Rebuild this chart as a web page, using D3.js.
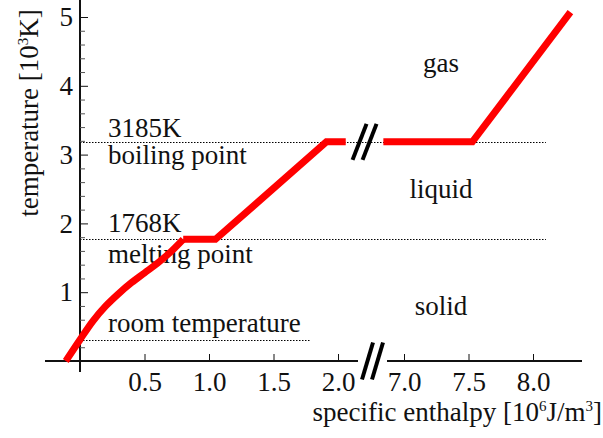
<!DOCTYPE html>
<html>
<head>
<meta charset="utf-8">
<script src="https://cdn.jsdelivr.net/npm/d3@7"></script>
<style>
  body { margin: 0; background: #fff; }
  svg text { font-family: "Liberation Serif", "Times New Roman", serif; fill: #111; }
</style>
</head>
<body>
<svg id="chart" width="603" height="438"></svg>
<script>
// Heating curve: specific enthalpy [10^6 J/m^3] vs temperature [10^3 K]
const solidHeating = [[-0.11, 0], [0, 0.31], [0.1, 0.58], [0.2, 0.8], [0.3, 0.98],
                      [0.4, 1.14], [0.5, 1.28], [0.6, 1.42], [0.7, 1.58], [0.8, 1.768]];
const meltToBoil = [[0.8, 1.768], [1.05, 1.768], [1.91, 3.185], [2.06, 3.185]];
const boilToGas = [[6.84, 3.185], [7.53, 3.185], [8.29, 5.07]];

// Reference temperatures [10^3 K]
const levelTemps = [3.185, 1.768, 0.3];
const levelValues = ["3185K", "1768K", ""];
const levelNames = ["boiling point", "melting point", "room temperature"];

// Phase names
const phaseNames = ["gas", "liquid", "solid"];

// Tick values
const yTicks = [1, 2, 3, 4, 5];
const xTicksLow = [0.5, 1.0, 1.5, 2.0];
const xTicksHigh = [7.0, 7.5, 8.0];

const FONT = "Liberation Serif, Times New Roman, serif";
const FS = 27;
const svg = d3.select("#chart");

// Broken x axis: two linear pieces with a gap between 2.x and 6.x
const xLow = d3.scaleLinear().domain([0, 2]).range([80, 338]);
const xHigh = d3.scaleLinear().domain([7, 8]).range([404, 533]);
const X = v => (v < 4.5 ? xLow(v) : xHigh(v));
const y = d3.scaleLinear().domain([0, 5]).range([361, 17]);

const y0 = y(0), x0 = xLow(0);
const lowEnd = xLow.invert(358), highStart = xHigh.invert(387);
const lowStart = xLow.invert(45), highEnd = xHigh.invert(582);

// Reference dotted lines
const dotted = svg.append("g")
  .attr("stroke", "#000").attr("stroke-width", 1).attr("stroke-dasharray", "1.5,1.5");
const levelEnds = [X(8.1), X(8.1), X(1.78)];
levelTemps.forEach((t, i) => {
  dotted.append("line")
    .attr("x1", x0).attr("x2", levelEnds[i])
    .attr("y1", Math.round(y(t)) + 0.5).attr("y2", Math.round(y(t)) + 0.5);
});

// Level annotations
const ann = svg.append("g").attr("font-size", FS).attr("font-family", FONT);
const valueOffsets = [-5, -7, 0];
const nameOffsets = [22, 24, -8];
levelTemps.forEach((t, i) => {
  if (levelValues[i]) {
    ann.append("text").attr("x", 108).attr("y", y(t) + valueOffsets[i]).text(levelValues[i]);
  }
  ann.append("text").attr("x", 108).attr("y", y(t) + nameOffsets[i]).text(levelNames[i]);
});

// Phase labels
const phaseT = [4.2, 2.37, 0.67];
phaseNames.forEach((p, i) => {
  ann.append("text").attr("x", 441).attr("y", y(phaseT[i]))
    .attr("text-anchor", "middle").text(p);
});

// X axis pieces
const axisG = svg.append("g").attr("stroke", "#111").attr("stroke-width", 2);
axisG.append("line").attr("x1", X(lowStart)).attr("x2", X(lowEnd)).attr("y1", y0).attr("y2", y0);
axisG.append("line").attr("x1", X(highStart)).attr("x2", X(highEnd)).attr("y1", y0).attr("y2", y0);

function xAxisPiece(scale, ticks) {
  const g = svg.append("g").attr("transform", `translate(0,${y0})`)
    .call(d3.axisBottom(scale).tickValues(ticks).tickFormat(d3.format(".1f"))
      .tickSizeInner(-7).tickSizeOuter(0).tickPadding(11));
  g.select(".domain").remove();
  g.attr("font-family", FONT).attr("font-size", FS);
  g.selectAll(".tick line").attr("stroke", "#111").attr("stroke-width", 1);
  g.selectAll(".tick text").attr("fill", "#111");
}
xAxisPiece(xLow, xTicksLow);
xAxisPiece(xHigh, xTicksHigh);

// Y axis
axisG.append("line").attr("x1", x0).attr("x2", x0).attr("y1", 0).attr("y2", y0 + 11);
const yMinor = d3.range(1, 25).map(i => i / 5).filter(v => Math.abs(v - Math.round(v)) > 1e-6);
const gMinor = svg.append("g").attr("transform", `translate(${x0},0)`)
  .call(d3.axisRight(y).tickValues(yMinor).tickFormat("").tickSizeInner(5).tickSizeOuter(0));
gMinor.select(".domain").remove();
gMinor.selectAll(".tick line").attr("stroke", "#555");
const gMajor = svg.append("g").attr("transform", `translate(${x0},0)`)
  .call(d3.axisLeft(y).tickValues(yTicks).tickFormat(d3.format("d"))
    .tickSizeInner(-8).tickSizeOuter(0).tickPadding(7));
gMajor.select(".domain").remove();
gMajor.attr("font-family", FONT).attr("font-size", FS);
gMajor.selectAll(".tick line").attr("stroke", "#111");
gMajor.selectAll(".tick text").attr("fill", "#111");

// Heating curve
const line = d3.line().x(d => X(d[0])).y(d => y(d[1]));
const curveG = svg.append("g").attr("fill", "none").attr("stroke", "#ff0000")
  .attr("stroke-width", 7).attr("stroke-linejoin", "miter");
curveG.append("path").attr("d", line.curve(d3.curveMonotoneX)(solidHeating));
curveG.append("path").attr("d", line.curve(d3.curveLinear)(meltToBoil));
curveG.append("path").attr("d", line.curve(d3.curveLinear)(boilToGas));

// Break marks (axis and curve)
function breakMark(cx, cy, dx, dy) {
  const g = svg.append("g").attr("stroke", "#000").attr("stroke-width", 4);
  [-5, 5].forEach(off => {
    g.append("line")
      .attr("x1", cx + off - dx).attr("y1", cy + dy)
      .attr("x2", cx + off + dx).attr("y2", cy - dy);
  });
}
breakMark((X(lowEnd) + X(highStart)) / 2, y0, 5.5, 18.5);
breakMark((X(2.06) + X(6.84)) / 2, y(3.185), 7, 18);

// Axis titles
const xt = svg.append("text").attr("x", 602).attr("y", 421)
  .attr("text-anchor", "end").attr("font-size", FS).attr("font-family", FONT);
xt.append("tspan").text("specific enthalpy [10");
xt.append("tspan").attr("font-size", 15).attr("dy", -10).text("6");
xt.append("tspan").attr("dy", 10).text("J/m");
xt.append("tspan").attr("font-size", 15).attr("dy", -10).text("3");
xt.append("tspan").attr("dy", 10).text("]");

const yt = svg.append("text").attr("transform", "translate(38,113) rotate(-90)")
  .attr("text-anchor", "middle").attr("font-size", FS).attr("font-family", FONT);
yt.append("tspan").text("temperature [10");
yt.append("tspan").attr("font-size", 15).attr("dy", -10).text("3");
yt.append("tspan").attr("dy", 10).text("K]");
</script>
</body>
</html>
